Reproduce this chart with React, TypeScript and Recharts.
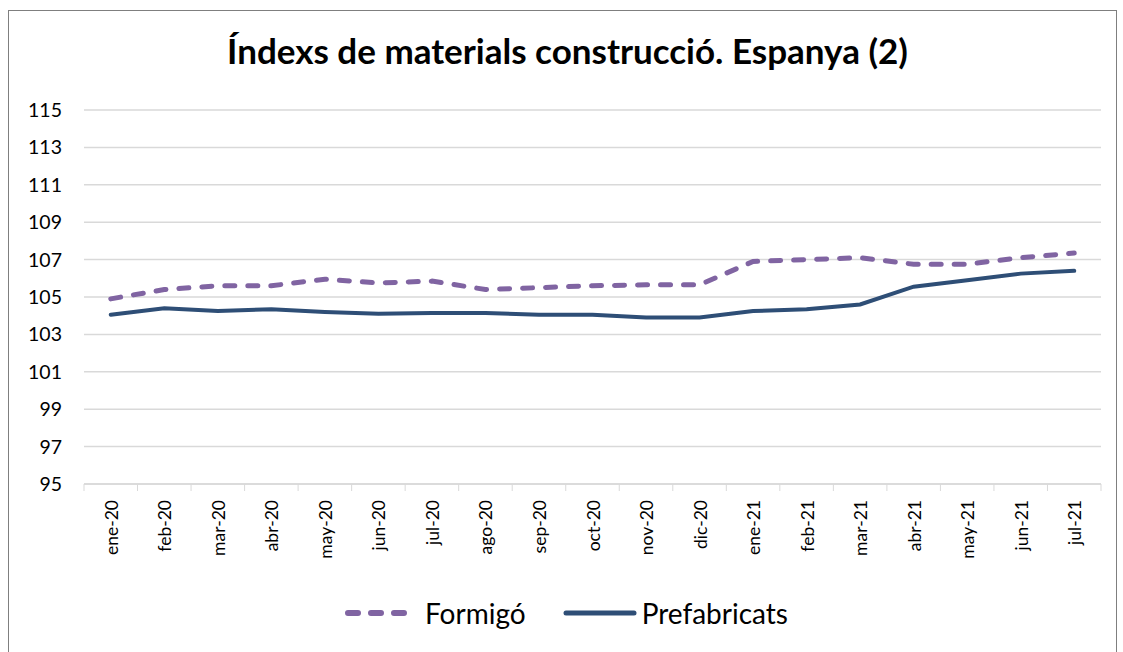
import React from 'react';
import { LineChart, Line, XAxis, YAxis, CartesianGrid } from 'recharts';

const categories = ['ene-20','feb-20','mar-20','abr-20','may-20','jun-20','jul-20','ago-20','sep-20','oct-20','nov-20','dic-20','ene-21','feb-21','mar-21','abr-21','may-21','jun-21','jul-21'];
const formigo = [104.9,105.4,105.6,105.6,105.95,105.75,105.85,105.4,105.5,105.6,105.65,105.65,106.9,107.0,107.1,106.75,106.75,107.1,107.35];
const prefabricats = [104.05,104.4,104.25,104.35,104.2,104.1,104.15,104.15,104.05,104.05,103.9,103.9,104.25,104.35,104.6,105.55,105.9,106.25,106.4];
const yTicks = [95,97,99,101,103,105,107,109,111,113,115];

const data = categories.map((c, i) => ({ name: c, Formigó: formigo[i], Prefabricats: prefabricats[i] }));

const FONT = 'Lato, "Open Sans", sans-serif';
const W = 1123, H = 652;
const PLOT_LEFT = 84, PLOT_RIGHT = 1101, PLOT_TOP = 110, PLOT_BOTTOM = 484;
const Y_AXIS_W = 60;
const band = (PLOT_RIGHT - PLOT_LEFT) / categories.length;

const XTick = (props: any) => {
  const { x, payload, index } = props;
  const left = x - band / 2;
  return (
    <g>
      <line x1={left} y1={PLOT_BOTTOM} x2={left} y2={PLOT_BOTTOM + 7} stroke="#d9d9d9" strokeWidth={1} />
      {index === categories.length - 1 && (
        <line x1={x + band / 2} y1={PLOT_BOTTOM} x2={x + band / 2} y2={PLOT_BOTTOM + 7} stroke="#d9d9d9" strokeWidth={1} />
      )}
      <text x={x} y={PLOT_BOTTOM + 9} transform={`rotate(-90, ${x + 7}, ${PLOT_BOTTOM + 9})`} textAnchor="end" fontSize={17.5} fontFamily={FONT} fill="#000">
        {payload.value}
      </text>
    </g>
  );
};

const YTick = (props: any) => {
  const { y, payload } = props;
  return (
    <text x={62} y={y + 7} textAnchor="end" fontSize={19.5} fontFamily={FONT} fill="#000">{payload.value}</text>
  );
};

const LegendBox = () => (
  <div style={{ position: 'absolute', left: 4, top: 596, width: W, display: 'flex', justifyContent: 'center', alignItems: 'center', fontFamily: FONT, fontSize: 28, color: '#000' }}>
    <svg width={74} height={12} style={{ marginRight: 8 }}>
      <line x1={5} y1={6} x2={69} y2={6} stroke="#8064a2" strokeWidth={6} strokeDasharray="10 13" strokeLinecap="round" />
    </svg>
    <span style={{ marginRight: 36 }}>Formigó</span>
    <svg width={76} height={12} style={{ marginRight: 4 }}>
      <line x1={4} y1={6} x2={72} y2={6} stroke="#2e4e76" strokeWidth={5} strokeLinecap="round" />
    </svg>
    <span>Prefabricats</span>
  </div>
);

export default function App() {
  return (
    <div style={{ position: 'absolute', left: 0, top: 0, width: W, height: H, background: '#fff', overflow: 'hidden' }}>
      <div style={{ position: 'absolute', left: 8, top: 10, width: 1109, height: 700, border: '1px solid #7f7f7f', boxSizing: 'border-box' }} />
      <div style={{ position: 'absolute', left: 6, top: 29, width: W, textAlign: 'center', fontFamily: FONT, fontWeight: 'bold', fontSize: 35, color: '#000' }}>
        Índexs de materials construcció. Espanya (2)
      </div>
      <div style={{ position: 'absolute', left: 0, top: 0 }}>
        <LineChart width={W} height={H} data={data} margin={{ top: PLOT_TOP, right: W - PLOT_RIGHT, left: PLOT_LEFT - Y_AXIS_W, bottom: 0 }}>
          <CartesianGrid vertical={false} stroke="#d9d9d9" strokeWidth={1.5} />
          <XAxis dataKey="name" height={H - PLOT_BOTTOM} interval={0} padding={{ left: band / 2, right: band / 2 }} tickLine={false} axisLine={{ stroke: '#d9d9d9', strokeWidth: 1.5 }} tick={<XTick />} />
          <YAxis width={Y_AXIS_W} domain={[95, 115]} ticks={yTicks} interval={0} axisLine={false} tickLine={false} tick={<YTick />} />
          <Line type="linear" dataKey="Formigó" stroke="#8064a2" strokeWidth={5} strokeDasharray="10 13" strokeLinecap="round" dot={false} isAnimationActive={false} />
          <Line type="linear" dataKey="Prefabricats" stroke="#2e4e76" strokeWidth={4} strokeLinecap="round" dot={false} isAnimationActive={false} />
        </LineChart>
      </div>
      <LegendBox />
    </div>
  );
}
